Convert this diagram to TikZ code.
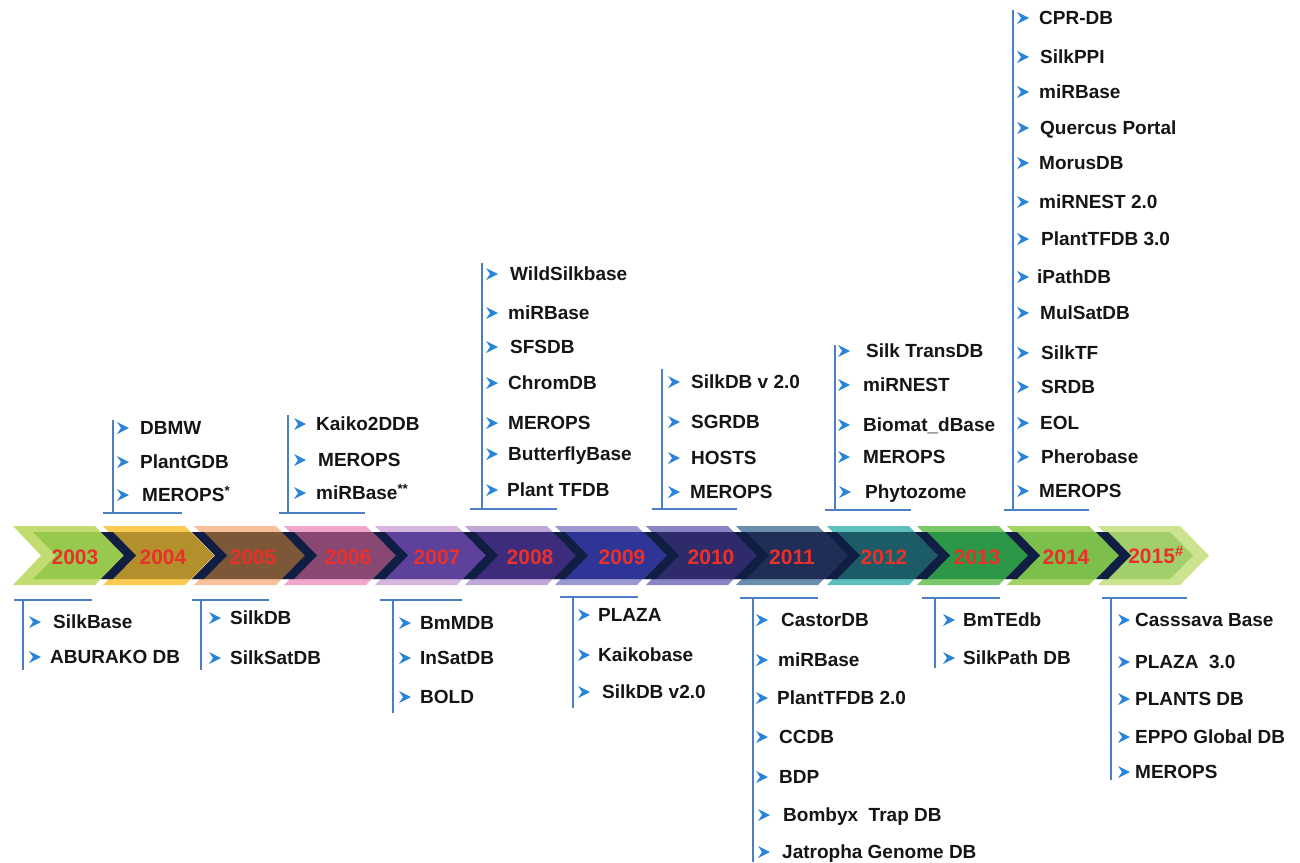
\documentclass[tikz,border=0pt]{standalone}
\usepackage{fontspec}
\setmainfont{Liberation Sans}
\usepackage{tikz}
\definecolor{lineblue}{HTML}{4A7FC6}
\definecolor{bulblue}{HTML}{2A84D8}
\definecolor{yearred}{HTML}{E8312B}
\definecolor{itemblack}{HTML}{151515}
\definecolor{navysep}{HTML}{101E44}
\definecolor{o03}{HTML}{C3DC72}\definecolor{i03}{HTML}{96C94E}
\definecolor{o04}{HTML}{FACB50}\definecolor{i04}{HTML}{B3902C}
\definecolor{o05}{HTML}{F7C09A}\definecolor{i05}{HTML}{7D5838}
\definecolor{o06}{HTML}{EFA8CB}\definecolor{i06}{HTML}{884872}
\definecolor{o07}{HTML}{D5B7DD}\definecolor{i07}{HTML}{5D419B}
\definecolor{o08}{HTML}{BFA8D8}\definecolor{i08}{HTML}{3D2C7C}
\definecolor{o09}{HTML}{9C98D0}\definecolor{i09}{HTML}{2F3597}
\definecolor{o10}{HTML}{8985C5}\definecolor{i10}{HTML}{2F2A6A}
\definecolor{o11}{HTML}{6B8EAD}\definecolor{i11}{HTML}{1F2D57}
\definecolor{o12}{HTML}{5EC0BC}\definecolor{i12}{HTML}{1C5C67}
\definecolor{o13}{HTML}{7DC86B}\definecolor{i13}{HTML}{2C9746}
\definecolor{o14}{HTML}{A4D265}\definecolor{i14}{HTML}{7CBF4A}
\definecolor{o15}{HTML}{CCE38F}\definecolor{i15}{HTML}{A2CF6C}

\begin{document}
\begin{tikzpicture}[x=1pt,y=1pt,yscale=-1,xscale=1,
  tline/.style={draw=lineblue, line width=2.2pt},
  bul/.style={fill=bulblue},
  dbitem/.style={anchor=west, inner sep=0pt, text height=13.5pt, text depth=0pt, font=\fontsize{19}{21}\selectfont\bfseries, text=itemblack},
  yearlbl/.style={inner sep=0pt, font=\fontsize{21}{24}\selectfont\bfseries, text=yearred}]
\useasboundingbox (0,0) rectangle (1300,862);

%Shape: Chevron outer bands
\fill[o03] (13,526) -- ++(82,0) -- ++(29,29.5) -- ++(-29,29.5) -- ++(-82,0) -- ++(28,-29.5) -- cycle;
\fill[o04] (103,526) -- ++(82,0) -- ++(29,29.5) -- ++(-29,29.5) -- ++(-82,0) -- ++(28,-29.5) -- cycle;
\fill[o05] (194,526) -- ++(82,0) -- ++(29,29.5) -- ++(-29,29.5) -- ++(-82,0) -- ++(28,-29.5) -- cycle;
\fill[o06] (284,526) -- ++(82,0) -- ++(29,29.5) -- ++(-29,29.5) -- ++(-82,0) -- ++(28,-29.5) -- cycle;
\fill[o07] (375,526) -- ++(82,0) -- ++(29,29.5) -- ++(-29,29.5) -- ++(-82,0) -- ++(28,-29.5) -- cycle;
\fill[o08] (465,526) -- ++(82,0) -- ++(29,29.5) -- ++(-29,29.5) -- ++(-82,0) -- ++(28,-29.5) -- cycle;
\fill[o09] (555,526) -- ++(82,0) -- ++(29,29.5) -- ++(-29,29.5) -- ++(-82,0) -- ++(28,-29.5) -- cycle;
\fill[o10] (646,526) -- ++(82,0) -- ++(29,29.5) -- ++(-29,29.5) -- ++(-82,0) -- ++(28,-29.5) -- cycle;
\fill[o11] (736,526) -- ++(82,0) -- ++(29,29.5) -- ++(-29,29.5) -- ++(-82,0) -- ++(28,-29.5) -- cycle;
\fill[o12] (827,526) -- ++(82,0) -- ++(29,29.5) -- ++(-29,29.5) -- ++(-82,0) -- ++(28,-29.5) -- cycle;
\fill[o13] (917,526) -- ++(82,0) -- ++(29,29.5) -- ++(-29,29.5) -- ++(-82,0) -- ++(28,-29.5) -- cycle;
\fill[o14] (1007,526) -- ++(82,0) -- ++(29,29.5) -- ++(-29,29.5) -- ++(-82,0) -- ++(28,-29.5) -- cycle;
\fill[o15] (1098,526) -- ++(82,0) -- ++(29,29.5) -- ++(-29,29.5) -- ++(-82,0) -- ++(28,-29.5) -- cycle;
%Shape: Chevron inner bands
\fill[i03] (33,532) -- ++(68,0) -- ++(23,23.5) -- ++(-23,23.5) -- ++(-68,0) -- ++(23,-23.5) -- cycle;
\fill[i04] (101,532) -- ++(90,0) -- ++(23,23.5) -- ++(-23,23.5) -- ++(-90,0) -- ++(23,-23.5) -- cycle;
\fill[i05] (192,532) -- ++(90,0) -- ++(23,23.5) -- ++(-23,23.5) -- ++(-90,0) -- ++(23,-23.5) -- cycle;
\fill[i06] (282,532) -- ++(91,0) -- ++(23,23.5) -- ++(-23,23.5) -- ++(-91,0) -- ++(23,-23.5) -- cycle;
\fill[i07] (373,532) -- ++(90,0) -- ++(23,23.5) -- ++(-23,23.5) -- ++(-90,0) -- ++(23,-23.5) -- cycle;
\fill[i08] (463,532) -- ++(90,0) -- ++(23,23.5) -- ++(-23,23.5) -- ++(-90,0) -- ++(23,-23.5) -- cycle;
\fill[i09] (553,532) -- ++(91,0) -- ++(23,23.5) -- ++(-23,23.5) -- ++(-91,0) -- ++(23,-23.5) -- cycle;
\fill[i10] (644,532) -- ++(90,0) -- ++(23,23.5) -- ++(-23,23.5) -- ++(-90,0) -- ++(23,-23.5) -- cycle;
\fill[i11] (734,532) -- ++(91,0) -- ++(23,23.5) -- ++(-23,23.5) -- ++(-91,0) -- ++(23,-23.5) -- cycle;
\fill[i12] (825,532) -- ++(90,0) -- ++(23,23.5) -- ++(-23,23.5) -- ++(-90,0) -- ++(23,-23.5) -- cycle;
\fill[i13] (915,532) -- ++(90,0) -- ++(23,23.5) -- ++(-23,23.5) -- ++(-90,0) -- ++(23,-23.5) -- cycle;
\fill[i14] (1005,532) -- ++(91,0) -- ++(23,23.5) -- ++(-23,23.5) -- ++(-91,0) -- ++(23,-23.5) -- cycle;
\fill[i15] (1096,532) -- ++(74,0) -- ++(23,23.5) -- ++(-23,23.5) -- ++(-74,0) -- ++(23,-23.5) -- cycle;
%Shape: Chevron dark separators
\fill[navysep] (101,532) -- ++(12,0) -- ++(23,23.5) -- ++(-23,23.5) -- ++(-12,0) -- ++(23,-23.5) -- cycle;
\fill[navysep] (192,532) -- ++(12,0) -- ++(23,23.5) -- ++(-23,23.5) -- ++(-12,0) -- ++(23,-23.5) -- cycle;
\fill[navysep] (282,532) -- ++(12,0) -- ++(23,23.5) -- ++(-23,23.5) -- ++(-12,0) -- ++(23,-23.5) -- cycle;
\fill[navysep] (373,532) -- ++(12,0) -- ++(23,23.5) -- ++(-23,23.5) -- ++(-12,0) -- ++(23,-23.5) -- cycle;
\fill[navysep] (463,532) -- ++(12,0) -- ++(23,23.5) -- ++(-23,23.5) -- ++(-12,0) -- ++(23,-23.5) -- cycle;
\fill[navysep] (553,532) -- ++(12,0) -- ++(23,23.5) -- ++(-23,23.5) -- ++(-12,0) -- ++(23,-23.5) -- cycle;
\fill[navysep] (644,532) -- ++(12,0) -- ++(23,23.5) -- ++(-23,23.5) -- ++(-12,0) -- ++(23,-23.5) -- cycle;
\fill[navysep] (734,532) -- ++(12,0) -- ++(23,23.5) -- ++(-23,23.5) -- ++(-12,0) -- ++(23,-23.5) -- cycle;
\fill[navysep] (825,532) -- ++(12,0) -- ++(23,23.5) -- ++(-23,23.5) -- ++(-12,0) -- ++(23,-23.5) -- cycle;
\fill[navysep] (915,532) -- ++(12,0) -- ++(23,23.5) -- ++(-23,23.5) -- ++(-12,0) -- ++(23,-23.5) -- cycle;
\fill[navysep] (1005,532) -- ++(12,0) -- ++(23,23.5) -- ++(-23,23.5) -- ++(-12,0) -- ++(23,-23.5) -- cycle;
\fill[navysep] (1096,532) -- ++(12,0) -- ++(23,23.5) -- ++(-23,23.5) -- ++(-12,0) -- ++(23,-23.5) -- cycle;

% Text Node years
\node[yearlbl] (t2003) at (75,557) {2003};
\node[yearlbl] (t2004) at (163,557) {2004};
\node[yearlbl] (t2005) at (253,557) {2005};
\node[yearlbl] (t2006) at (348,557) {2006};
\node[yearlbl] (t2007) at (437,557) {2007};
\node[yearlbl] (t2008) at (530,557) {2008};
\node[yearlbl] (t2009) at (622,557) {2009};
\node[yearlbl] (t2010) at (711,557) {2010};
\node[yearlbl] (t2011) at (792,557) {2011};
\node[yearlbl] (t2012) at (884,557) {2012};
\node[yearlbl] (t2013) at (977,557) {2013};
\node[yearlbl] (t2014) at (1066,557) {2014};
\node[yearlbl] (t2015) at (1156,555) {2015\textsuperscript{\#}};

%Straight Lines 2003
\draw[tline] (23,600) -- (23,670);
\draw[tline] (14,600) -- (92,600);
% Text Node
\node[dbitem] (d03a) at (53,622) {SilkBase};
\node[dbitem] (d03b) at (50,657) {ABURAKO DB};
\fill[bul] ([xshift=-12pt]d03a.west) -- ++(-12,-6) -- ++(4,6) -- ++(-4,6) -- cycle;
\fill[bul] ([xshift=-9pt]d03b.west) -- ++(-12,-6) -- ++(4,6) -- ++(-4,6) -- cycle;

%Straight Lines 2004
\draw[tline] (113,420) -- (113,513);
\draw[tline] (103,513) -- (182,513);
% Text Node
\node[dbitem] (d04a) at (140,428) {DBMW};
\node[dbitem] (d04b) at (140,462) {PlantGDB};
\node[dbitem] (d04c) at (142,495) {MEROPS\textsuperscript{*}};
\fill[bul] ([xshift=-11pt]d04a.west) -- ++(-12,-6) -- ++(4,6) -- ++(-4,6) -- cycle;
\fill[bul] ([xshift=-11pt]d04b.west) -- ++(-12,-6) -- ++(4,6) -- ++(-4,6) -- cycle;
\fill[bul] ([xshift=-13pt]d04c.west) -- ++(-12,-6) -- ++(4,6) -- ++(-4,6) -- cycle;

%Straight Lines 2005
\draw[tline] (201,600) -- (201,670);
\draw[tline] (192,600) -- (269,600);
% Text Node
\node[dbitem] (d05a) at (230,618) {SilkDB};
\node[dbitem] (d05b) at (230,658) {SilkSatDB};
\fill[bul] ([xshift=-9pt]d05a.west) -- ++(-12,-6) -- ++(4,6) -- ++(-4,6) -- cycle;
\fill[bul] ([xshift=-9pt]d05b.west) -- ++(-12,-6) -- ++(4,6) -- ++(-4,6) -- cycle;

%Straight Lines 2006
\draw[tline] (288,415) -- (288,513);
\draw[tline] (279,513) -- (365,513);
% Text Node
\node[dbitem] (d06a) at (316,424) {Kaiko2DDB};
\node[dbitem] (d06b) at (318,460) {MEROPS};
\node[dbitem] (d06c) at (316,493) {miRBase\textsuperscript{**}};
\fill[bul] ([xshift=-10pt]d06a.west) -- ++(-12,-6) -- ++(4,6) -- ++(-4,6) -- cycle;
\fill[bul] ([xshift=-12pt]d06b.west) -- ++(-12,-6) -- ++(4,6) -- ++(-4,6) -- cycle;
\fill[bul] ([xshift=-10pt]d06c.west) -- ++(-12,-6) -- ++(4,6) -- ++(-4,6) -- cycle;

%Straight Lines 2007
\draw[tline] (393,600) -- (393,713);
\draw[tline] (380,600) -- (462,600);
% Text Node
\node[dbitem] (d07a) at (420,623) {BmMDB};
\node[dbitem] (d07b) at (420,658) {InSatDB};
\node[dbitem] (d07c) at (420,697) {BOLD};
\fill[bul] ([xshift=-9pt]d07a.west) -- ++(-12,-6) -- ++(4,6) -- ++(-4,6) -- cycle;
\fill[bul] ([xshift=-9pt]d07b.west) -- ++(-12,-6) -- ++(4,6) -- ++(-4,6) -- cycle;
\fill[bul] ([xshift=-9pt]d07c.west) -- ++(-12,-6) -- ++(4,6) -- ++(-4,6) -- cycle;

%Straight Lines 2008
\draw[tline] (482,263) -- (482,509);
\draw[tline] (470,509) -- (557,509);
% Text Node
\node[dbitem] (d08a) at (510,274) {WildSilkbase};
\node[dbitem] (d08b) at (508,313) {miRBase};
\node[dbitem] (d08c) at (510,347) {SFSDB};
\node[dbitem] (d08d) at (508,383) {ChromDB};
\node[dbitem] (d08e) at (508,423) {MEROPS};
\node[dbitem] (d08f) at (508,454) {ButterflyBase};
\node[dbitem] (d08g) at (507,490) {Plant TFDB};
\fill[bul] ([xshift=-12pt]d08a.west) -- ++(-12,-6) -- ++(4,6) -- ++(-4,6) -- cycle;
\fill[bul] ([xshift=-10pt]d08b.west) -- ++(-12,-6) -- ++(4,6) -- ++(-4,6) -- cycle;
\fill[bul] ([xshift=-12pt]d08c.west) -- ++(-12,-6) -- ++(4,6) -- ++(-4,6) -- cycle;
\fill[bul] ([xshift=-10pt]d08d.west) -- ++(-12,-6) -- ++(4,6) -- ++(-4,6) -- cycle;
\fill[bul] ([xshift=-10pt]d08e.west) -- ++(-12,-6) -- ++(4,6) -- ++(-4,6) -- cycle;
\fill[bul] ([xshift=-10pt]d08f.west) -- ++(-12,-6) -- ++(4,6) -- ++(-4,6) -- cycle;
\fill[bul] ([xshift=-9pt]d08g.west) -- ++(-12,-6) -- ++(4,6) -- ++(-4,6) -- cycle;

%Straight Lines 2009
\draw[tline] (573,597) -- (573,708);
\draw[tline] (560,597) -- (638,597);
% Text Node
\node[dbitem] (d09a) at (598,615) {PLAZA};
\node[dbitem] (d09b) at (598,655) {Kaikobase};
\node[dbitem] (d09c) at (602,692) {SilkDB v2.0};
\fill[bul] ([xshift=-8pt]d09a.west) -- ++(-12,-6) -- ++(4,6) -- ++(-4,6) -- cycle;
\fill[bul] ([xshift=-8pt]d09b.west) -- ++(-12,-6) -- ++(4,6) -- ++(-4,6) -- cycle;
\fill[bul] ([xshift=-12pt]d09c.west) -- ++(-12,-6) -- ++(4,6) -- ++(-4,6) -- cycle;

%Straight Lines 2010
\draw[tline] (662,369) -- (662,509);
\draw[tline] (652,509) -- (737,509);
% Text Node
\node[dbitem] (d10a) at (691,382) {SilkDB v 2.0};
\node[dbitem] (d10b) at (691,422) {SGRDB};
\node[dbitem] (d10c) at (691,458) {HOSTS};
\node[dbitem] (d10d) at (690,492) {MEROPS};
\fill[bul] ([xshift=-11pt]d10a.west) -- ++(-12,-6) -- ++(4,6) -- ++(-4,6) -- cycle;
\fill[bul] ([xshift=-11pt]d10b.west) -- ++(-12,-6) -- ++(4,6) -- ++(-4,6) -- cycle;
\fill[bul] ([xshift=-11pt]d10c.west) -- ++(-12,-6) -- ++(4,6) -- ++(-4,6) -- cycle;
\fill[bul] ([xshift=-10pt]d10d.west) -- ++(-12,-6) -- ++(4,6) -- ++(-4,6) -- cycle;

%Straight Lines 2011
\draw[tline] (753,598) -- (753,862);
\draw[tline] (740,598) -- (818,598);
% Text Node
\node[dbitem] (d11a) at (781,620) {CastorDB};
\node[dbitem] (d11b) at (778,660) {miRBase};
\node[dbitem] (d11c) at (777,698) {PlantTFDB 2.0};
\node[dbitem] (d11d) at (779,737) {CCDB};
\node[dbitem] (d11e) at (779,777) {BDP};
\node[dbitem] (d11f) at (783,815) {Bombyx\ \ Trap DB};
\node[dbitem] (d11g) at (782,852) {Jatropha Genome DB};
\fill[bul] ([xshift=-13pt]d11a.west) -- ++(-12,-6) -- ++(4,6) -- ++(-4,6) -- cycle;
\fill[bul] ([xshift=-10pt]d11b.west) -- ++(-12,-6) -- ++(4,6) -- ++(-4,6) -- cycle;
\fill[bul] ([xshift=-9pt]d11c.west) -- ++(-12,-6) -- ++(4,6) -- ++(-4,6) -- cycle;
\fill[bul] ([xshift=-11pt]d11d.west) -- ++(-12,-6) -- ++(4,6) -- ++(-4,6) -- cycle;
\fill[bul] ([xshift=-11pt]d11e.west) -- ++(-12,-6) -- ++(4,6) -- ++(-4,6) -- cycle;
\fill[bul] ([xshift=-13pt]d11f.west) -- ++(-12,-6) -- ++(4,6) -- ++(-4,6) -- cycle;
\fill[bul] ([xshift=-12pt]d11g.west) -- ++(-12,-6) -- ++(4,6) -- ++(-4,6) -- cycle;

%Straight Lines 2012
\draw[tline] (835,345) -- (835,510);
\draw[tline] (825,510) -- (911,510);
% Text Node
\node[dbitem] (d12a) at (866,351) {Silk TransDB};
\node[dbitem] (d12b) at (863,385) {miRNEST};
\node[dbitem] (d12c) at (863,425) {Biomat\_dBase};
\node[dbitem] (d12d) at (863,457) {MEROPS};
\node[dbitem] (d12e) at (865,492) {Phytozome};
\fill[bul] ([xshift=-16pt]d12a.west) -- ++(-12,-6) -- ++(4,6) -- ++(-4,6) -- cycle;
\fill[bul] ([xshift=-13pt]d12b.west) -- ++(-12,-6) -- ++(4,6) -- ++(-4,6) -- cycle;
\fill[bul] ([xshift=-13pt]d12c.west) -- ++(-12,-6) -- ++(4,6) -- ++(-4,6) -- cycle;
\fill[bul] ([xshift=-13pt]d12d.west) -- ++(-12,-6) -- ++(4,6) -- ++(-4,6) -- cycle;
\fill[bul] ([xshift=-14pt]d12e.west) -- ++(-12,-6) -- ++(4,6) -- ++(-4,6) -- cycle;

%Straight Lines 2013
\draw[tline] (935,598) -- (935,668);
\draw[tline] (922,598) -- (1000,598);
% Text Node
\node[dbitem] (d13a) at (963,620) {BmTEdb};
\node[dbitem] (d13b) at (963,658) {SilkPath DB};
\fill[bul] ([xshift=-8pt]d13a.west) -- ++(-12,-6) -- ++(4,6) -- ++(-4,6) -- cycle;
\fill[bul] ([xshift=-8pt]d13b.west) -- ++(-12,-6) -- ++(4,6) -- ++(-4,6) -- cycle;

%Straight Lines 2014
\draw[tline] (1013,10) -- (1013,510);
\draw[tline] (1004,510) -- (1089,510);
% Text Node
\node[dbitem] (d14a) at (1039,18) {CPR-DB};
\node[dbitem] (d14b) at (1040,57) {SilkPPI};
\node[dbitem] (d14c) at (1039,92) {miRBase};
\node[dbitem] (d14d) at (1040,128) {Quercus Portal};
\node[dbitem] (d14e) at (1039,163) {MorusDB};
\node[dbitem] (d14f) at (1039,202) {miRNEST 2.0};
\node[dbitem] (d14g) at (1041,239) {PlantTFDB 3.0};
\node[dbitem] (d14h) at (1037,277) {iPathDB};
\node[dbitem] (d14i) at (1040,313) {MulSatDB};
\node[dbitem] (d14j) at (1041,353) {SilkTF};
\node[dbitem] (d14k) at (1041,387) {SRDB};
\node[dbitem] (d14l) at (1040,423) {EOL};
\node[dbitem] (d14m) at (1041,457) {Pherobase};
\node[dbitem] (d14n) at (1039,491) {MEROPS};
\fill[bul] ([xshift=-10pt]d14a.west) -- ++(-12,-6) -- ++(4,6) -- ++(-4,6) -- cycle;
\fill[bul] ([xshift=-11pt]d14b.west) -- ++(-12,-6) -- ++(4,6) -- ++(-4,6) -- cycle;
\fill[bul] ([xshift=-10pt]d14c.west) -- ++(-12,-6) -- ++(4,6) -- ++(-4,6) -- cycle;
\fill[bul] ([xshift=-11pt]d14d.west) -- ++(-12,-6) -- ++(4,6) -- ++(-4,6) -- cycle;
\fill[bul] ([xshift=-10pt]d14e.west) -- ++(-12,-6) -- ++(4,6) -- ++(-4,6) -- cycle;
\fill[bul] ([xshift=-10pt]d14f.west) -- ++(-12,-6) -- ++(4,6) -- ++(-4,6) -- cycle;
\fill[bul] ([xshift=-12pt]d14g.west) -- ++(-12,-6) -- ++(4,6) -- ++(-4,6) -- cycle;
\fill[bul] ([xshift=-8pt]d14h.west) -- ++(-12,-6) -- ++(4,6) -- ++(-4,6) -- cycle;
\fill[bul] ([xshift=-11pt]d14i.west) -- ++(-12,-6) -- ++(4,6) -- ++(-4,6) -- cycle;
\fill[bul] ([xshift=-12pt]d14j.west) -- ++(-12,-6) -- ++(4,6) -- ++(-4,6) -- cycle;
\fill[bul] ([xshift=-12pt]d14k.west) -- ++(-12,-6) -- ++(4,6) -- ++(-4,6) -- cycle;
\fill[bul] ([xshift=-11pt]d14l.west) -- ++(-12,-6) -- ++(4,6) -- ++(-4,6) -- cycle;
\fill[bul] ([xshift=-12pt]d14m.west) -- ++(-12,-6) -- ++(4,6) -- ++(-4,6) -- cycle;
\fill[bul] ([xshift=-10pt]d14n.west) -- ++(-12,-6) -- ++(4,6) -- ++(-4,6) -- cycle;

%Straight Lines 2015
\draw[tline] (1111,598) -- (1111,780);
\draw[tline] (1102,598) -- (1187,598);
% Text Node
\node[dbitem] (d15a) at (1135,620) {Casssava Base};
\node[dbitem] (d15b) at (1135,662) {PLAZA\ \ 3.0};
\node[dbitem] (d15c) at (1135,699) {PLANTS DB};
\node[dbitem] (d15d) at (1135,737) {EPPO Global DB};
\node[dbitem] (d15e) at (1135,772) {MEROPS};
\fill[bul] ([xshift=-5pt]d15a.west) -- ++(-12,-6) -- ++(4,6) -- ++(-4,6) -- cycle;
\fill[bul] ([xshift=-5pt]d15b.west) -- ++(-12,-6) -- ++(4,6) -- ++(-4,6) -- cycle;
\fill[bul] ([xshift=-5pt]d15c.west) -- ++(-12,-6) -- ++(4,6) -- ++(-4,6) -- cycle;
\fill[bul] ([xshift=-5pt]d15d.west) -- ++(-12,-6) -- ++(4,6) -- ++(-4,6) -- cycle;
\fill[bul] ([xshift=-5pt]d15e.west) -- ++(-12,-6) -- ++(4,6) -- ++(-4,6) -- cycle;

\end{tikzpicture}
\end{document}
